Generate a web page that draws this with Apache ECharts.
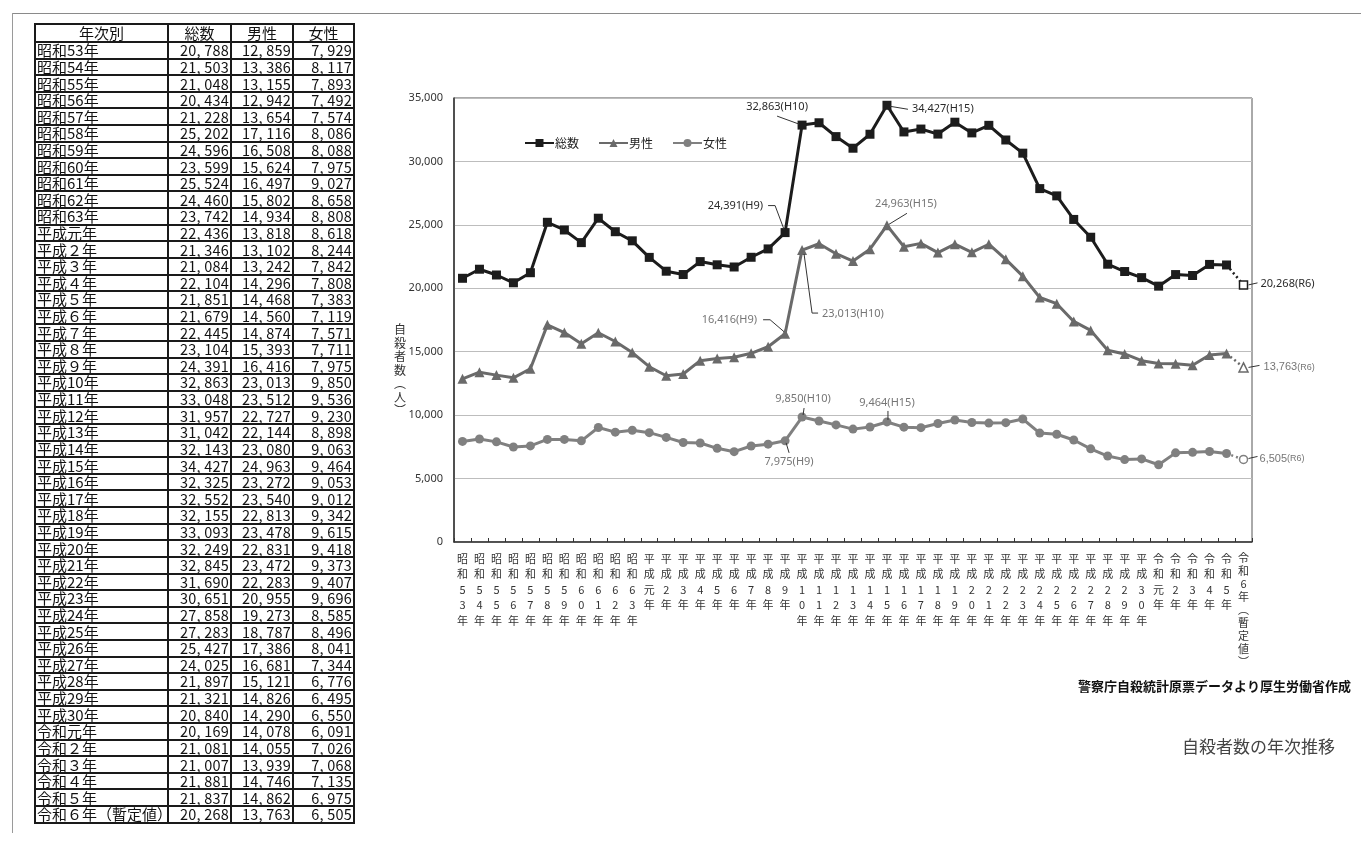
<!DOCTYPE html>
<html>
<head>
<meta charset="utf-8">
<script src="https://cdn.jsdelivr.net/npm/echarts@6/dist/echarts.min.js"></script>
<style>
  html, body { margin:0; padding:0; background:#fff; }
  #wrap { position:relative; width:1361px; height:842px; overflow:hidden; }
  #chart { position:absolute; left:0; top:0; width:1361px; height:842px; }
  #frameTop { position:absolute; left:12px; top:13px; width:1349px; height:0; border-top:1px solid #8a8a8a; }
  #frameLeft { position:absolute; left:12px; top:13px; width:0; height:820px; border-left:1px solid #9a9a9a; }
  #tbl { position:absolute; left:34px; top:23px; z-index:2; }
  table { border-collapse:collapse; table-layout:fixed; width:319px; font-family:'Noto Sans CJK JP','Noto Sans',sans-serif; color:#111; }
  td { border:2px solid #1a1a1a; padding:0 1px; font-size:15px; line-height:14px; white-space:nowrap; overflow:hidden; }
  tr.h td { height:16px; text-align:center; font-size:15px; }
  tr.d td { height:14.62px; }
  td.n { text-align:right; font-size:14.5px; letter-spacing:0.2px; }
</style>
</head>
<body>
<div id="wrap">
  <div id="chart"></div>
  <div id="frameTop"></div>
  <div id="frameLeft"></div>
  <div id="tbl"></div>
</div>
<script>
// ---------------- data ----------------
const years = ['昭和53年','昭和54年','昭和55年','昭和56年','昭和57年','昭和58年','昭和59年','昭和60年','昭和61年','昭和62年','昭和63年',
  '平成元年','平成２年','平成３年','平成４年','平成５年','平成６年','平成７年','平成８年','平成９年',
  '平成10年','平成11年','平成12年','平成13年','平成14年','平成15年','平成16年','平成17年','平成18年','平成19年','平成20年',
  '平成21年','平成22年','平成23年','平成24年','平成25年','平成26年','平成27年','平成28年','平成29年','平成30年',
  '令和元年','令和２年','令和３年','令和４年','令和５年','令和６年（暫定値）'];
const total = [20788,21503,21048,20434,21228,25202,24596,23599,25524,24460,23742,
  22436,21346,21084,22104,21851,21679,22445,23104,24391,
  32863,33048,31957,31042,32143,34427,32325,32552,32155,33093,32249,
  32845,31690,30651,27858,27283,25427,24025,21897,21321,20840,
  20169,21081,21007,21881,21837,20268];
const male = [12859,13386,13155,12942,13654,17116,16508,15624,16497,15802,14934,
  13818,13102,13242,14296,14468,14560,14874,15393,16416,
  23013,23512,22727,22144,23080,24963,23272,23540,22813,23478,22831,
  23472,22283,20955,19273,18787,17386,16681,15121,14826,14290,
  14078,14055,13939,14746,14862,13763];
const female = [7929,8117,7893,7492,7574,8086,8088,7975,9027,8658,8808,
  8618,8244,7842,7808,7383,7119,7571,7711,7975,
  9850,9536,9230,8898,9063,9464,9053,9012,9342,9615,9418,
  9373,9407,9696,8585,8496,8041,7344,6776,6495,6550,
  6091,7026,7068,7135,6975,6505];
const tableHead = ['年次別','総数','男性','女性'];
const seriesNames = ['総数','男性','女性'];
const yTicks = [0,5000,10000,15000,20000,25000,30000,35000];
const yAxisTitle = '自殺者数（人）';
const sourceNote = '警察庁自殺統計原票データより厚生労働省作成';
const titleText = '自殺者数の年次推移';
// annotated points: [series index, category index, tag]
const noteSeries = [0,0,0,1,1,1,2,2,2,0,1,2];
const noteIndex  = [19,20,25,19,20,25,19,20,25,46,46,46];
const noteTag    = ['H9','H10','H15','H9','H10','H15','H9','H10','H15','R6','R6','R6'];

// ---------------- table ----------------
const fmt = v => v.toLocaleString('en-US');
(function buildTable(){
  let h = '<table><colgroup><col style="width:133px"><col style="width:63px"><col style="width:62px"><col style="width:61px"></colgroup>';
  h += '<tr class="h">' + tableHead.map(t => '<td>' + t + '</td>').join('') + '</tr>';
  for (let i = 0; i < years.length; i++) {
    h += '<tr class="d"><td>' + years[i] + '</td><td class="n">' + fmt(total[i]).replace(',', ', ') +
      '</td><td class="n">' + fmt(male[i]).replace(',', ', ') + '</td><td class="n">' + fmt(female[i]).replace(',', ', ') + '</td></tr>';
  }
  h += '</table>';
  document.getElementById('tbl').innerHTML = h;
})();

// ---------------- chart ----------------
const toHalf = s => s.replace(/[０-９]/g, c => String.fromCharCode(c.charCodeAt(0) - 0xFEE0))
                    .replace('（', '︵').replace('）', '︶');
const vert = (s, idx) => {
  const t = toHalf(s).split('').join('\n');
  return s.length > 5 ? '{c|' + t + '}' : t;
};

const colors = ['#1c1c1c', '#6a6a6a', '#808080'];
const symbols = ['rect', 'triangle', 'circle'];
const symSize = [9, 10, 9];
const dataSets = [total, male, female];
const N = years.length;

const series = [];
dataSets.forEach((d, k) => {
  series.push({
    name: seriesNames[k], type: 'line',
    data: d.map((v, i) => i < N - 1 ? v : null),
    symbol: symbols[k], symbolSize: symSize[k], showAllSymbol: true,
    lineStyle: { color: colors[k], width: 3 },
    itemStyle: { color: colors[k] },
    z: 5 - k
  });
});
dataSets.forEach((d, k) => {
  series.push({
    name: seriesNames[k] + '_p', type: 'line',
    data: d.map((v, i) => {
      if (i === N - 2) return { value: v, symbol: 'none' };
      if (i === N - 1) return { value: v, symbol: symbols[k], symbolSize: symSize[k] - 1,
        itemStyle: { color: '#fff', borderColor: colors[k], borderWidth: 1.5 } };
      return null;
    }),
    lineStyle: { color: colors[k], width: 2.5, type: [2, 3] },
    itemStyle: { color: colors[k] },
    z: 5 - k
  });
});

const chart = echarts.init(document.getElementById('chart'), null, { renderer: 'canvas' });
chart.setOption({
  animation: false,
  textStyle: { fontFamily: "'Noto Sans','Noto Sans CJK JP',sans-serif" },
  grid: { left: 454, right: 109, top: 98, bottom: 300, show: true, borderColor: '#555', borderWidth: 1, backgroundColor: 'transparent' },
  legend: {
    data: seriesNames.map((n, k) => ({ name: n })),
    left: 519, top: 132, itemWidth: 29, itemHeight: 10, itemGap: 19,
    textStyle: { fontSize: 12, color: '#222', fontFamily: "'Noto Sans CJK JP',sans-serif", padding: [0,0,0,-4] }
  },
  xAxis: {
    type: 'category', data: years, boundaryGap: true,
    axisLine: { lineStyle: { color: '#333', width: 1.5 } },
    axisTick: { show: true, inside: true, length: 4, lineStyle: { color: '#333' } },
    axisLabel: { interval: 0, formatter: vert, fontSize: 11, lineHeight: 15.5, color: '#333', margin: 9,
      fontFamily: "'Noto Sans CJK JP',sans-serif", verticalAlign: 'top',
      rich: { c: { fontSize: 11, lineHeight: 13, color: '#333', fontFamily: "'Noto Sans CJK JP',sans-serif" } } }
  },
  yAxis: {
    type: 'value', min: 0, max: 35000, interval: 5000,
    axisLine: { show: true, lineStyle: { color: '#333', width: 1.5 } },
    axisTick: { show: false },
    splitLine: { lineStyle: { color: '#bdbdbd', width: 1 } },
    axisLabel: { fontSize: 11, color: '#333', margin: 11, formatter: v => yTicks.indexOf(v) >= 0 ? fmt(v) : '' }
  },
  series: series
});

// annotation layout (pixel offsets relative to the data point)
const layout = [
  { t: [-22, -27], a: 'right', l: [[-17, -27], [-10, -27], [-1, -3]] },   // total H9
  { t: [-25, -18], a: 'center', l: [[-25, -9], [-3, -1]] },               // total H10
  { t: [25, 4], a: 'left', l: [[3, 1], [21, 4]] },                         // total H15
  { t: [-28, -14], a: 'right', l: [[-22, -14], [-15, -14], [-1, -2]] },   // male H9
  { t: [20, 64], a: 'left', l: [[2, 4], [10, 63], [16, 63]] },            // male H10
  { t: [19, -21], a: 'center', l: [[20, -12], [2, -1]] },                 // male H15
  { t: [4, 21], a: 'center', l: [[1, 2], [4, 12]] },                      // female H9
  { t: [1, -18], a: 'center', l: [[2, -9], [1, -2]] },                    // female H10
  { t: [0, -19], a: 'center', l: [[1, -11], [1, -2]] },                   // female H15
  { t: [17, -1], a: 'left', l: [[5, 0], [14, -2]] },                      // total R6
  { t: [20, 0], a: 'left', l: [[5, 0], [16, -2]] },                       // male R6
  { t: [16, -1], a: 'left', l: [[5, -1], [14, -3]] }                      // female R6
];
const noteColor = ['#2a2a2a', '#767676', '#767676'];
const graphics = [];
for (let n = 0; n < noteIndex.length; n++) {
  const s = noteSeries[n], i = noteIndex[n];
  const v = dataSets[s][i];
  const p = chart.convertToPixel({ gridIndex: 0 }, [i, v]);
  const L = layout[n];
  const isR6 = noteTag[n] === 'R6' && s > 0;
  const txt = isR6 ? '{a|' + fmt(v) + '}{b|(' + noteTag[n] + ')}' : fmt(v) + '(' + noteTag[n] + ')';
  graphics.push({
    type: 'text', x: p[0] + L.t[0], y: p[1] + L.t[1], silent: true, z: 20,
    style: {
      text: txt, fill: noteColor[s], font: "11px 'Noto Sans', sans-serif",
      align: L.a, verticalAlign: 'middle', textAlign: L.a, textVerticalAlign: 'middle',
      rich: { a: { fontSize: 11, fill: noteColor[s], color: noteColor[s] }, b: { fontSize: 9, fill: noteColor[s], color: noteColor[s] } }
    }
  });
  graphics.push({
    type: 'polyline', silent: true, z: 20,
    shape: { points: L.l.map(o => [p[0] + o[0], p[1] + o[1]]) },
    style: { stroke: '#333', lineWidth: 1, fill: null }
  });
}
graphics.push({
  type: 'text', x: 400, y: 323, silent: true,
  style: { text: yAxisTitle.replace('（', '︵').replace('）', '︶').split('').join('\n'), fill: '#333',
    font: "12px 'Noto Sans CJK JP', sans-serif", lineHeight: 13.5, align: 'center', textAlign: 'center' }
});
graphics.push({
  type: 'text', x: 1351, y: 686, silent: true,
  style: { text: sourceNote, fill: '#111', font: "bold 13px 'Noto Sans CJK JP', sans-serif",
    align: 'right', textAlign: 'right', verticalAlign: 'middle', textVerticalAlign: 'middle' }
});
graphics.push({
  type: 'text', x: 1335, y: 747, silent: true,
  style: { text: titleText, fill: '#444', font: "17px 'Noto Sans CJK JP', sans-serif",
    align: 'right', textAlign: 'right', verticalAlign: 'middle', textVerticalAlign: 'middle' }
});
chart.setOption({ graphic: { elements: graphics } });
</script>
</body>
</html>
